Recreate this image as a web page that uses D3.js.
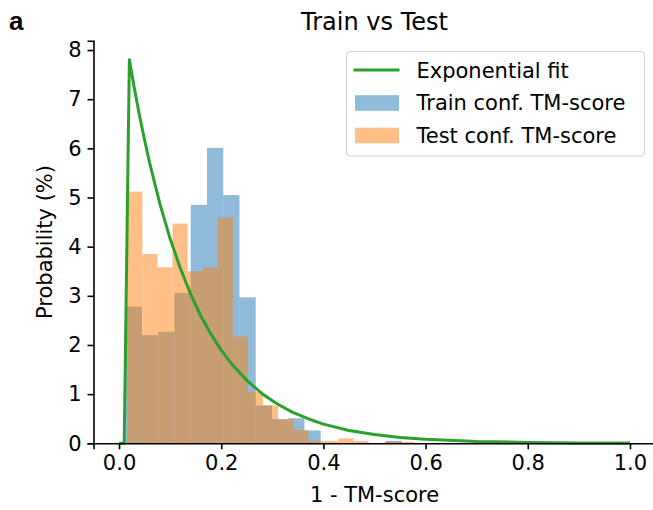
<!DOCTYPE html>
<html>
<head>
<meta charset="utf-8">
<script src="https://cdn.jsdelivr.net/npm/d3@7"></script>
<style>
  body { margin: 0; background: #fff; }
  svg text { font-family: "DejaVu Sans", sans-serif; fill: #000; }
</style>
</head>
<body>
<div id="chart"></div>
<script>
// histogram bins (density, matplotlib hist)
const trainStart = 0.0131;
const trainBinWidth = 0.0318;
const trainHeights = [2.78, 2.20, 2.27, 3.06, 4.85, 6.01, 5.05, 2.97, 0.77, 0.49,
  0.51, 0.26, 0, 0, 0, 0, 0.05];

const testStart = 0.0162;
const testBinWidth = 0.0295;
const testHeights = [5.12, 3.85, 3.58, 4.47, 3.50, 3.57, 4.59, 2.17, 1.05, 0.77,
  0.49, 0.27, 0.05, 0.05, 0.10, 0.05, 0, 0.03, 0.03];

// exponential fit curve
const fitX = [0, 0.0101, 0.0202, 0.03, 0.04, 0.05, 0.06, 0.08, 0.10, 0.12, 0.14,
  0.16, 0.18, 0.20, 0.22, 0.25, 0.28, 0.31, 0.34, 0.37, 0.40, 0.45, 0.50, 0.55,
  0.60, 0.70, 0.80, 0.90, 1.00];
const fitY = [0, 0, 7.80, 7.22, 6.67, 6.17, 5.70, 4.87, 4.16, 3.56, 3.04,
  2.59, 2.22, 1.89, 1.62, 1.28, 1.01, 0.80, 0.63, 0.50, 0.39, 0.26, 0.18, 0.12,
  0.081, 0.037, 0.017, 0.008, 0.004];

const xTicks = [0, 0.2, 0.4, 0.6, 0.8, 1.0];
const yTicks = [0, 1, 2, 3, 4, 5, 6, 7, 8];
const legendLabels = ["Exponential fit", "Train conf. TM-score", "Test conf. TM-score"];

const W = 653, H = 510;
const plotLeft = 93.5, plotRight = 655.5, plotTop = 40.7, plotBottom = 443.3;
const fs = 21;

const svg = d3.select("#chart").append("svg")
  .attr("width", W)
  .attr("height", H);

const x = d3.scaleLinear().domain([-0.05, 1.05]).range([plotLeft, plotRight]);
const y = d3.scaleLinear().domain([0, 8.19]).range([plotBottom, plotTop]);

function drawHist(start, w, heights, color) {
  svg.append("g")
    .selectAll("rect")
    .data(heights)
    .join("rect")
    .attr("x", (d, i) => x(start + i * w))
    .attr("width", (d, i) => x(start + (i + 1) * w) - x(start + i * w))
    .attr("y", d => y(d))
    .attr("height", d => y(0) - y(d))
    .attr("fill", color)
    .attr("fill-opacity", 0.5);
}

drawHist(trainStart, trainBinWidth, trainHeights, "#1f77b4");
drawHist(testStart, testBinWidth, testHeights, "#ff7f0e");

const line = d3.line()
  .x((d, i) => x(fitX[i]))
  .y(d => y(d));

svg.append("path")
  .attr("d", line(fitY))
  .attr("fill", "none")
  .attr("stroke", "#2ca02c")
  .attr("stroke-width", 3)
  .attr("stroke-linejoin", "round");

// axes
const xAxis = svg.append("g")
  .attr("transform", "translate(0," + plotBottom + ")")
  .call(d3.axisBottom(x).tickValues(xTicks).tickFormat(d3.format(".1f"))
    .tickSizeOuter(0).tickSize(6).tickPadding(6));

const yAxis = svg.append("g")
  .attr("transform", "translate(" + plotLeft + ",0)")
  .call(d3.axisLeft(y).tickValues(yTicks).tickFormat(d3.format("d"))
    .tickSizeOuter(0).tickSize(6).tickPadding(6));

[xAxis, yAxis].forEach(function (g) {
  g.select(".domain").attr("stroke", "#000").attr("stroke-width", 1.6);
  g.selectAll(".tick line").attr("stroke", "#000").attr("stroke-width", 1.6);
  g.selectAll(".tick text")
    .style("font-family", '"DejaVu Sans", sans-serif')
    .style("font-size", fs + "px")
    .attr("fill", "#000");
});

svg.append("text")
  .attr("x", (plotLeft + plotRight) / 2)
  .attr("y", 502)
  .attr("text-anchor", "middle")
  .style("font-size", fs + "px")
  .text("1 - TM-score");

svg.append("text")
  .attr("transform", "translate(52," + ((plotTop + plotBottom) / 2) + ") rotate(-90)")
  .attr("text-anchor", "middle")
  .style("font-size", fs + "px")
  .text("Probability (%)");

svg.append("text")
  .attr("x", (plotLeft + plotRight) / 2)
  .attr("y", 30)
  .attr("text-anchor", "middle")
  .style("font-size", "24px")
  .text("Train vs Test");

svg.append("text")
  .attr("x", 9)
  .attr("y", 30)
  .style("font-family", '"Liberation Sans", Arial, sans-serif')
  .style("font-weight", "bold")
  .style("font-size", "26px")
  .text("a");

// legend
const lg = svg.append("g").attr("transform", "translate(346.5,51.5)");
lg.append("rect")
  .attr("width", 298)
  .attr("height", 104.5)
  .attr("rx", 4)
  .attr("fill", "#fff")
  .attr("fill-opacity", 0.8)
  .attr("stroke", "#d5d5d5")
  .attr("stroke-width", 1.2);

lg.append("line")
  .attr("x1", 7).attr("x2", 53)
  .attr("y1", 18.5).attr("y2", 18.5)
  .attr("stroke", "#2ca02c")
  .attr("stroke-width", 3);

[["#1f77b4", 51.5], ["#ff7f0e", 84]].forEach(function (p) {
  lg.append("rect")
    .attr("x", 8.5).attr("y", p[1] - 7.8)
    .attr("width", 44).attr("height", 15.6)
    .attr("fill", p[0])
    .attr("fill-opacity", 0.5);
});

lg.selectAll("text.lab")
  .data(legendLabels)
  .join("text")
  .attr("class", "lab")
  .attr("x", 70)
  .attr("y", (d, i) => 18.5 + i * 32.75)
  .attr("dy", "0.36em")
  .style("font-size", fs + "px")
  .text(d => d);
</script>
</body>
</html>
